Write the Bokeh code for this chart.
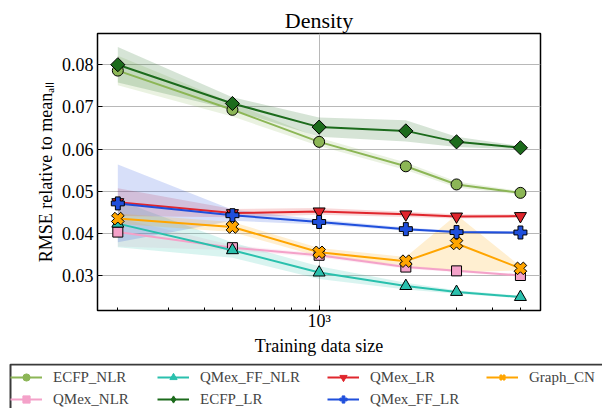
import numpy as np
from bokeh.plotting import figure
from bokeh.layouts import column, row
from bokeh.models import (Range1d, FixedTicker, Legend, LegendItem, NumeralTickFormatter,
                          BoxAnnotation)
from bokeh.embed import file_html
from bokeh.resources import INLINE

# ---------------- data ----------------
train_sizes = [200, 500, 1000, 2000, 3000, 5000]

ecfp_nlr = [0.0786, 0.0693, 0.0617, 0.0559, 0.0516, 0.0496]
ecfp_nlr_err = [0.0035, 0.0016, 0.0010, 0.0009, 0.0007, 0.0004]

qmex_nlr = [0.0403, 0.0366, 0.0348, 0.0320, 0.0311, 0.0300]
qmex_nlr_err = [0.0034, 0.0006, 0.0005, 0.0004, 0.0003, 0.0003]

qmex_ff_nlr = [0.0423, 0.0360, 0.0307, 0.0275, 0.0261, 0.0249]
qmex_ff_nlr_err = [0.0056, 0.0018, 0.0015, 0.0008, 0.0004, 0.0003]

ecfp_lr = [0.0800, 0.0708, 0.0652, 0.0643, 0.0617, 0.0603]
ecfp_lr_err = [0.0042, 0.0015, 0.0023, 0.0025, 0.0012, 0.0004]

qmex_lr = [0.0474, 0.0448, 0.0452, 0.0445, 0.0440, 0.0441]
qmex_lr_err = [0.0033, 0.0010, 0.0008, 0.0006, 0.0005, 0.0004]

qmex_ff_lr = [0.0471, 0.0443, 0.0427, 0.0410, 0.0403, 0.0402]
qmex_ff_lr_err = [0.0092, 0.0013, 0.0006, 0.0004, 0.0003, 0.0003]

graph_cn = [0.0435, 0.0415, 0.0355, 0.0334, 0.0376, 0.0317]
graph_cn_err = [0.0012, 0.0012, 0.0010, 0.0010, 0.0068, 0.0005]

series_names = ["ECFP_NLR", "QMex_NLR", "QMex_FF_NLR", "ECFP_LR", "QMex_LR", "QMex_FF_LR", "Graph_CN"]
series_values = [ecfp_nlr, qmex_nlr, qmex_ff_nlr, ecfp_lr, qmex_lr, qmex_ff_lr, graph_cn]
series_errors = [ecfp_nlr_err, qmex_nlr_err, qmex_ff_nlr_err, ecfp_lr_err, qmex_lr_err, qmex_ff_lr_err, graph_cn_err]

y_ticks = [0.03, 0.04, 0.05, 0.06, 0.07, 0.08]
x_major_ticks = [1000]
x_major_labels = {1000: "10\u00b3"}
x_minor_ticks = [200, 300, 400, 500, 600, 700, 800, 900, 2000, 3000, 4000, 5000]

title_text = "Density"
x_label = "Training data size"
y_label = "RMSE relative to mean\u2090\u2097\u2097"

# ---------------- styles ----------------
colors = ["#8cb656", "#f4a2c9", "#2ac0ad", "#1c6b1c", "#e0262d", "#1f4fdc", "#ffa500"]
markers = ["circle", "square", "triangle", "square", "inverted_triangle", "plus", "plus"]
sizes = [11, 10, 12, 10, 12, 13, 13]
angles = [0, 0, 0, np.pi / 4, 0, 0, np.pi / 4]
legend_markers = ["circle", "square", "triangle", "diamond", "inverted_triangle", "plus", "x"]
legend_marker_lw = [1, 1, 1, 1, 1, 1, 3]
# legend columns: (item indices, left x in px)
legend_columns = [([0, 1], 10), ([2, 3], 157), ([4, 5], 327), ([6], 486)]

FONT = "Liberation Serif"

p = figure(width=602, height=363, x_axis_type="log",
           x_range=Range1d(170, 5870), y_range=Range1d(0.0217, 0.0874),
           output_backend="svg", toolbar_location=None,
           min_border_left=97, min_border_right=62, min_border_top=33, min_border_bottom=53)
p.title.text = title_text
p.title.align = "center"
p.title.text_font = FONT
p.title.text_font_size = "22px"
p.title.text_font_style = "normal"
p.title.text_color = "black"
p.title.standoff = 2

p.background_fill_color = "white"
p.border_fill_color = "white"
p.outline_line_color = "black"
p.outline_line_width = 1.5

# axes
p.xaxis.ticker = FixedTicker(ticks=x_major_ticks, minor_ticks=x_minor_ticks)
p.xaxis.major_label_overrides = x_major_labels
p.yaxis.ticker = FixedTicker(ticks=y_ticks)
p.yaxis.formatter = NumeralTickFormatter(format="0.00")
for ax in (p.xaxis[0], p.yaxis[0]):
    ax.axis_line_color = None
    ax.major_tick_in = 5
    ax.major_tick_out = 0
    ax.minor_tick_in = 3
    ax.minor_tick_out = 0
    ax.major_tick_line_color = "black"
    ax.minor_tick_line_color = "black"
    ax.major_label_text_font = FONT
    ax.major_label_text_font_size = "18px"
    ax.major_label_text_color = "black"
    ax.axis_label_text_font = FONT
    ax.axis_label_text_font_size = "18px"
    ax.axis_label_text_font_style = "normal"
    ax.axis_label_text_color = "black"
p.yaxis.minor_tick_line_color = None
p.xaxis.major_label_standoff = 0
p.yaxis.major_label_standoff = 4
p.xaxis.axis_label = x_label
p.xaxis.axis_label_standoff = 2
p.yaxis.axis_label = y_label
p.yaxis.axis_label_standoff = 3

p.xgrid.grid_line_color = "#b8b8b8"
p.ygrid.grid_line_color = "#b8b8b8"
p.xgrid.grid_line_width = 1
p.ygrid.grid_line_width = 1

# bands
for vals, errs, c in zip(series_values, series_errors, colors):
    lo = [v - e for v, e in zip(vals, errs)]
    hi = [v + e for v, e in zip(vals, errs)]
    p.varea(x=train_sizes, y1=lo, y2=hi, fill_color=c, fill_alpha=0.18)

# lines + markers
for name, vals, c, m, s, a in zip(series_names, series_values, colors, markers, sizes, angles):
    p.line(train_sizes, vals, line_color=c, line_width=2)
    p.scatter(train_sizes, vals, marker=m, size=s, angle=a, fill_color=c,
              line_color="black", line_width=1)

# legend strip (separate canvas below the plot)
LG_W, LG_H = 602, 45
lg = figure(width=LG_W, height=LG_H, x_range=Range1d(0, 1), y_range=Range1d(0, 1),
            output_backend="svg", toolbar_location=None,
            x_axis_location=None, y_axis_location=None,
            min_border=0, min_border_left=0, min_border_right=0,
            min_border_top=0, min_border_bottom=0)
lg.title.text = ""
lg.grid.visible = False
lg.outline_line_color = None
lg.background_fill_color = "white"
lg.border_fill_color = "white"

# legend frame box (runs past the right and bottom edges, as in the reference)
lg.add_layout(BoxAnnotation(left=10, right=720, top=LG_H - 1, bottom=-20,
                            left_units="screen", right_units="screen",
                            top_units="screen", bottom_units="screen",
                            fill_color="white", fill_alpha=1.0,
                            line_color="#3a3a3a", line_width=2, line_alpha=1.0))

all_items = []
for name, c, m, lw in zip(series_names, colors, legend_markers, legend_marker_lw):
    lr = lg.line([np.nan], [np.nan], line_color=c, line_width=2)
    sr = lg.scatter([np.nan], [np.nan], marker=m, size=8, fill_color=c, line_color=c,
                    line_width=lw)
    all_items.append(LegendItem(label=name, renderers=[lr, sr]))

PAD, SP, ROW_H = 4, 4, 18
for idx, x0 in legend_columns:
    n = len(idx)
    h = 2 * PAD + n * ROW_H + (n - 1) * SP
    leg = Legend(items=[all_items[i] for i in idx], location=(x0, LG_H - h + 3),
                 orientation="vertical", padding=PAD, spacing=SP,
                 glyph_height=ROW_H, glyph_width=32, label_height=ROW_H,
                 label_standoff=11, margin=0,
                 label_text_font=FONT, label_text_font_size="15px",
                 border_line_color=None, background_fill_alpha=0.0)
    lg.add_layout(leg, "center")

layout = column(p, row(lg), spacing=0)
open("out.html", "w").write(file_html(layout, INLINE))
